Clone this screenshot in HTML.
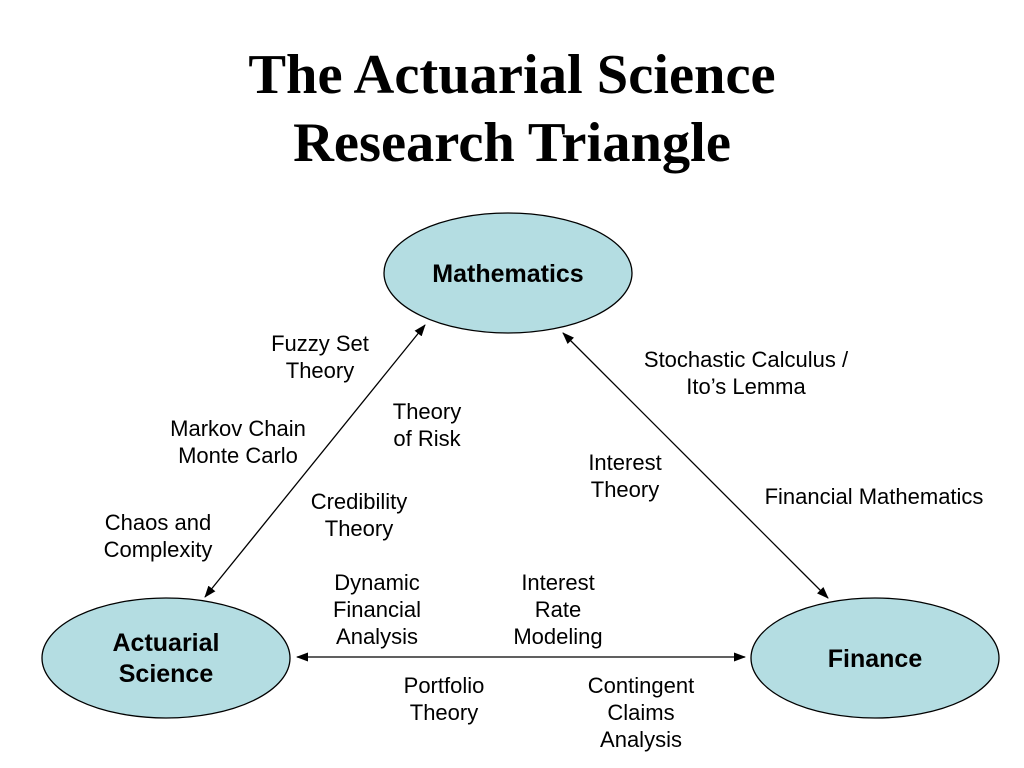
<!DOCTYPE html>
<html><head><style>
body{margin:0;width:1024px;height:768px;background:#fff;overflow:hidden;position:relative;font-family:"Liberation Sans",Arial,sans-serif}
.t{position:absolute;width:1024px;text-align:center;font-family:"Liberation Serif",serif;font-weight:bold;font-size:56.5px;line-height:68px;top:41px}
.l{position:absolute;font-size:22px;line-height:27px;text-align:center;transform:translateX(-50%);white-space:nowrap}
</style></head><body>
<div class="t">The Actuarial Science<br>Research Triangle</div>
<svg width="1024" height="768" style="position:absolute;left:0;top:0">
<defs><marker id="a" markerWidth="12" markerHeight="9" refX="11" refY="4.5" orient="auto-start-reverse" markerUnits="userSpaceOnUse"><path d="M0,0 L12,4.5 L0,9 z" fill="#000"/></marker></defs>
<g fill="#b4dde2" stroke="#000" stroke-width="1.3">
<ellipse cx="508" cy="273" rx="124" ry="60"/>
<ellipse cx="166" cy="658" rx="124" ry="60"/>
<ellipse cx="875" cy="658" rx="124" ry="60"/>
</g>
<g stroke="#000" stroke-width="1.3" marker-start="url(#a)" marker-end="url(#a)">
<line x1="425" y1="325" x2="205" y2="597"/>
<line x1="563" y1="333" x2="828" y2="598"/>
<line x1="297" y1="657" x2="745" y2="657"/>
</g>
<g font-family="Liberation Sans,Arial,sans-serif" font-weight="bold" font-size="25" text-anchor="middle">
<text x="508" y="282">Mathematics</text>
<text x="166" y="651">Actuarial</text>
<text x="166" y="682">Science</text>
<text x="875" y="667">Finance</text>
</g>
</svg>
<div class="l" style="left:320px;top:330px">Fuzzy Set<br>Theory</div>
<div class="l" style="left:238px;top:415px">Markov Chain<br>Monte Carlo</div>
<div class="l" style="left:158px;top:509px">Chaos and<br>Complexity</div>
<div class="l" style="left:427px;top:398px">Theory<br>of Risk</div>
<div class="l" style="left:359px;top:488px">Credibility<br>Theory</div>
<div class="l" style="left:746px;top:346px">Stochastic Calculus /<br>Ito’s Lemma</div>
<div class="l" style="left:625px;top:449px">Interest<br>Theory</div>
<div class="l" style="left:874px;top:483px">Financial Mathematics</div>
<div class="l" style="left:377px;top:569px">Dynamic<br>Financial<br>Analysis</div>
<div class="l" style="left:558px;top:569px">Interest<br>Rate<br>Modeling</div>
<div class="l" style="left:444px;top:672px">Portfolio<br>Theory</div>
<div class="l" style="left:641px;top:672px">Contingent<br>Claims<br>Analysis</div>
</body></html>
